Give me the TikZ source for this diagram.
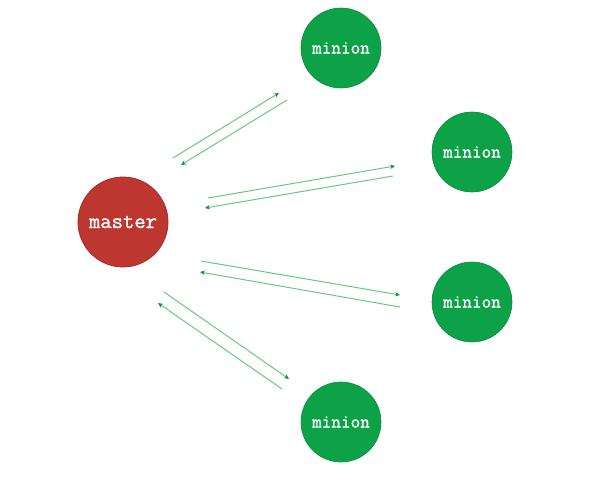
\documentclass[tikz,border=0pt]{standalone}
\usepackage{fontspec}
\newfontfamily\nodefont[FakeBold=1.2]{Latin Modern Mono}
\usetikzlibrary{arrows.meta}
\definecolor{masterred}{RGB}{190,54,48}
\definecolor{masteredge}{RGB}{165,42,40}
\definecolor{miniongreen}{RGB}{14,162,72}
\definecolor{minionedge}{RGB}{10,140,62}
\definecolor{linkgreen}{RGB}{105,200,128}
\definecolor{tipgreen}{RGB}{10,150,60}
\tikzset{
  masternode/.style={circle, fill=masterred, draw=masteredge, line width=0.8pt, minimum size=90pt, inner sep=0pt, text=white, font=\nodefont\fontsize{22}{24}\selectfont},
  minionnode/.style={circle, fill=miniongreen, draw=minionedge, line width=0.6pt, minimum size=80pt, inner sep=0pt, text=white, font=\nodefont\fontsize{18.7}{21}\selectfont},
  link/.style={draw=linkgreen, line width=1pt, -{Stealth[length=5pt,width=4.5pt,color=tipgreen]}},
}
\begin{document}
\begin{tikzpicture}[x=1pt,y=-1pt]
\useasboundingbox (0,0) rectangle (606,482);
\node[masternode] (master) at (123,222) {master};
\node[minionnode] (m1) at (341,48) {minion};
\node[minionnode] (m2) at (472,152) {minion};
\node[minionnode] (m3) at (472,302) {minion};
\node[minionnode] (m4) at (341,422) {minion};
% pair 1
\coordinate (a1s) at (173,158); \coordinate (a1e) at (279,93);
\coordinate (b1s) at (287,100); \coordinate (b1e) at (181,165);
% pair 2
\coordinate (a2s) at (208,198); \coordinate (a2e) at (395,166);
\coordinate (b2s) at (393,176); \coordinate (b2e) at (205,208);
% pair 3
\coordinate (a3s) at (201,261); \coordinate (a3e) at (400,295);
\coordinate (b3s) at (400,307); \coordinate (b3e) at (200,272);
% pair 4
\coordinate (a4s) at (164,292); \coordinate (a4e) at (289,379);
\coordinate (b4s) at (282,389); \coordinate (b4e) at (158,303);
\draw[link] (a1s) -- (a1e);
\draw[link] (b1s) -- (b1e);
\draw[link] (a2s) -- (a2e);
\draw[link] (b2s) -- (b2e);
\draw[link] (a3s) -- (a3e);
\draw[link] (b3s) -- (b3e);
\draw[link] (a4s) -- (a4e);
\draw[link] (b4s) -- (b4e);
\end{tikzpicture}
\end{document}
